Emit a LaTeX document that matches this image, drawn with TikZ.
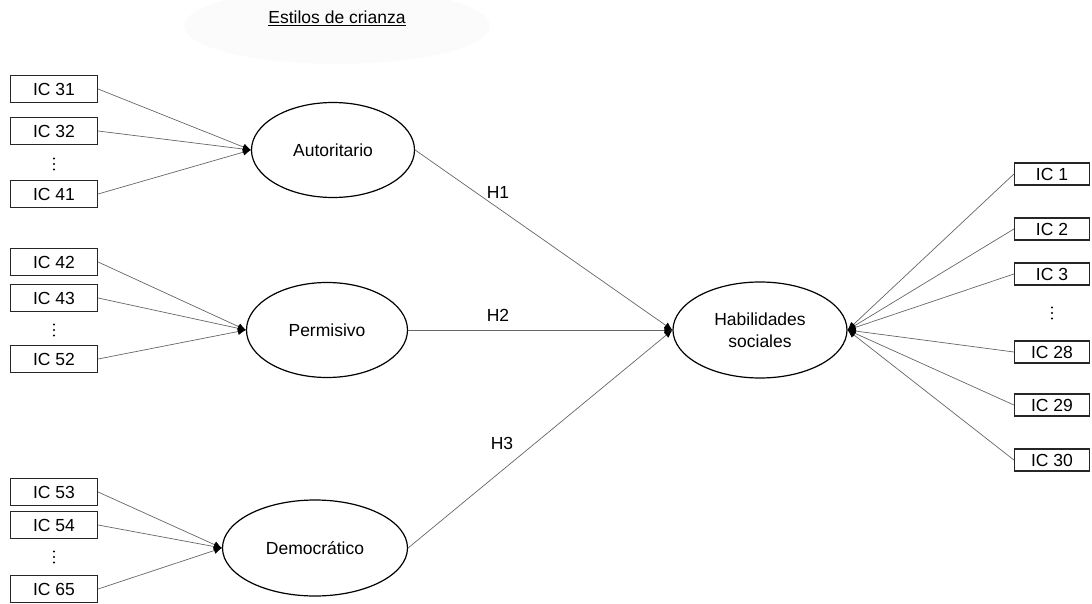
\documentclass[tikz,border=0pt]{standalone}
\usepackage{fontspec}
\setmainfont{Liberation Sans}
\usetikzlibrary{shapes.geometric,arrows.meta}
\tikzset{
  txt/.style={font=\fontsize{17.5}{22}\selectfont},
  item/.style={txt,draw=black!85,line width=1.2pt,minimum width=87pt,
    minimum height=27pt,inner sep=0pt},
  itemr/.style={item,minimum width=75pt,minimum height=22pt},
  latent/.style={txt,draw,ellipse,line width=1.2pt,inner sep=0pt,align=center},
  link/.style={draw=black!60,line width=0.7pt,
    -{Latex[black,length=8pt,width=7pt]}},
  vdts/.pic={\foreach \k in {-5.5,0,5.5} \fill (0,\k) circle (1.1pt);},
}
\begin{document}
\begin{tikzpicture}[x=1pt,y=-1pt]
    \useasboundingbox (0,0) rectangle (1092,604);
    % faint title background
    \fill[black!1.5] (337,26) ellipse [x radius=153,y radius=38];
    \node[txt] (title) at (337,18) {\underline{Estilos de crianza}};
    % Autoritario
    \node[item] (ic31) at (54,89) {IC 31};
    \node[item] (ic32) at (54,131) {IC 32};
    \coordinate (d1) at (54,164);
    \node[item] (ic41) at (54,194) {IC 41};
    \node[latent,minimum width=163pt,minimum height=95pt] (aut) at (333,150) {Autoritario};
    % Permisivo
    \node[item] (ic42) at (54,262) {IC 42};
    \node[item] (ic43) at (54,298) {IC 43};
    \coordinate (d2) at (54,330);
    \node[item] (ic52) at (54,359) {IC 52};
    \node[latent,minimum width=161pt,minimum height=95pt] (per) at (327,330) {Permisivo};
    % Democratico
    \node[item] (ic53) at (54,492) {IC 53};
    \node[item] (ic54) at (54,525) {IC 54};
    \coordinate (d3) at (54,557);
    \node[item] (ic65) at (54,589) {IC 65};
    \node[latent,minimum width=185pt,minimum height=96pt] (dem) at (315,548) {Democrático};
    % Habilidades sociales
    \node[latent,minimum width=174pt,minimum height=96pt] (hab) at (760,330) {Habilidades\\sociales};
    \node[itemr] (ic1) at (1052,174) {IC 1};
    \node[itemr] (ic2) at (1052,229) {IC 2};
    \node[itemr] (ic3) at (1052,274) {IC 3};
    \coordinate (d4) at (1052,313);
    \node[itemr] (ic28) at (1052,352) {IC 28};
    \node[itemr] (ic29) at (1052,405) {IC 29};
    \node[itemr] (ic30) at (1052,460) {IC 30};
    % vertical dots
    \foreach \d in {d1,d2,d3,d4} \pic at (\d) {vdts};
    % indicators
    \foreach \i in {ic31,ic32,ic41} \draw[link] (\i.east) -- (aut.west);
    \foreach \i in {ic42,ic43,ic52} \draw[link] (\i.east) -- (per.west);
    \foreach \i in {ic53,ic54,ic65} \draw[link] (\i.east) -- (dem.west);
    \foreach \i in {ic1,ic2,ic3,ic28,ic29,ic30} \draw[link] (\i.west) -- (hab.east);
    % hypotheses
    \draw[link] (aut.east) -- (hab.west);
    \draw[link] (per.east) -- (hab.west);
    \draw[link] (dem.east) -- (hab.west);
    \node[txt] (h1) at (498,192) {H1};
    \node[txt] (h2) at (498,315) {H2};
    \node[txt] (h3) at (502,443) {H3};
\end{tikzpicture}
\end{document}
